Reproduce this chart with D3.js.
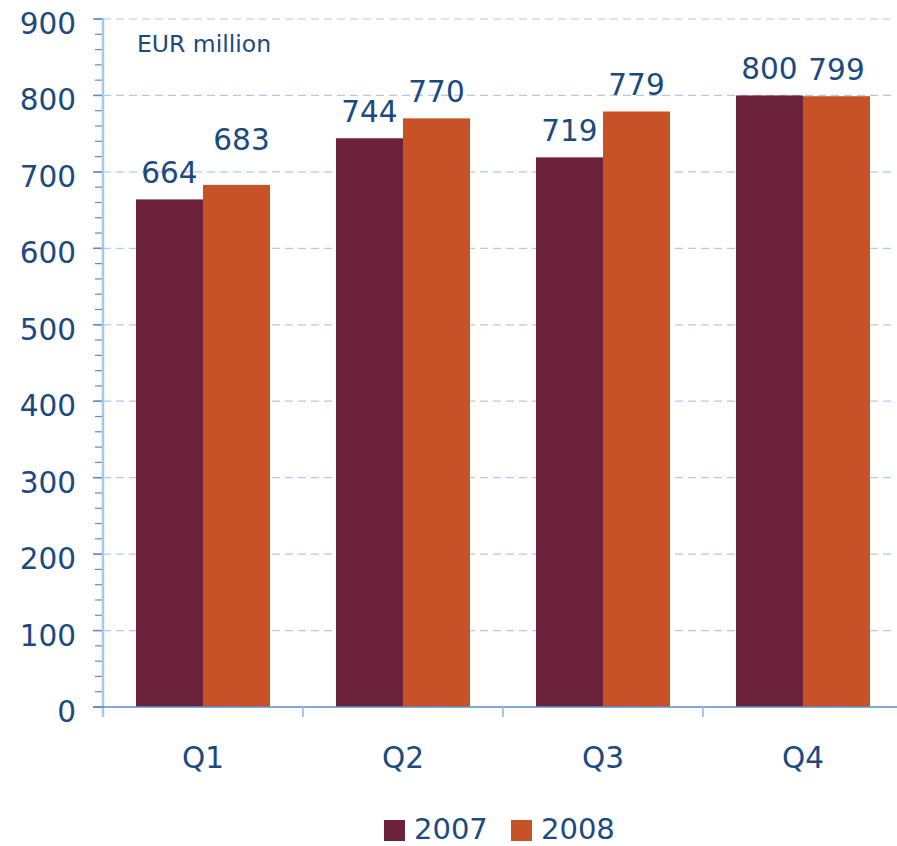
<!DOCTYPE html>
<html>
<head>
<meta charset="utf-8">
<script src="https://cdn.jsdelivr.net/npm/d3@7"></script>
<style>
  html, body { margin: 0; padding: 0; background: #fff; }
  svg text { font-family: "DejaVu Sans", Verdana, sans-serif; fill: #1b4a80; }
</style>
</head>
<body>
<svg id="chart" width="897" height="846"></svg>
<script>
// Quarterly figures, EUR million
const quarters = ["Q1", "Q2", "Q3", "Q4"];
const years = ["2007", "2008"];
const values2007 = [664, 744, 719, 800];
const values2008 = [683, 770, 779, 799];
const yTicks = [0, 100, 200, 300, 400, 500, 600, 700, 800, 900];
const unitLabel = "EUR million";

const colors = { "2007": "#6c223a", "2008": "#c75228" };
const seriesValues = { "2007": values2007, "2008": values2008 };

const svg = d3.select("#chart");

const y = d3.scaleLinear().domain([0, 900]).range([707, 19]);
const x = d3.scaleBand().domain(quarters).range([103, 903]).paddingInner(0).paddingOuter(0);
const xs = d3.scaleBand().domain(years).range([0, x.bandwidth()]).paddingInner(0).paddingOuter(0.4925);

// dashed gridlines
svg.append("g").selectAll("line")
  .data(yTicks.filter(t => t > 0))
  .join("line")
  .attr("x1", 103).attr("x2", 895)
  .attr("y1", d => y(d)).attr("y2", d => y(d))
  .attr("stroke", "#b0cbe6").attr("stroke-width", 1.2)
  .attr("stroke-dasharray", "8,5");

// bars
const rows = quarters.flatMap((q, i) => years.map(yr => ({ q, yr, v: seriesValues[yr][i] })));
svg.append("g").selectAll("rect")
  .data(rows)
  .join("rect")
  .attr("x", d => x(d.q) + xs(d.yr))
  .attr("width", xs.bandwidth())
  .attr("y", d => y(d.v))
  .attr("height", d => y(0) - y(d.v))
  .attr("fill", d => colors[d.yr]);

// value labels; the Q1 2008 label sits higher to clear its neighbour
const lift = d => (d.q === "Q1" && d.yr === "2008") ? 35 : 16;
const shift = d => (d.q === "Q1" && d.yr === "2008") ? 5 : 0;
svg.append("g").selectAll("text")
  .data(rows)
  .join("text")
  .attr("x", d => x(d.q) + xs(d.yr) + xs.bandwidth() / 2 + shift(d))
  .attr("y", d => y(d.v) - lift(d))
  .attr("text-anchor", "middle")
  .attr("font-size", 29.5)
  .text(d => d.v);

// y axis: minor ticks every 20, labelled ticks every 100
const yAxis = svg.append("g");
yAxis.selectAll("line.minor")
  .data(d3.range(0, 901, 20))
  .join("line")
  .attr("x1", 95).attr("x2", 103)
  .attr("y1", d => y(d)).attr("y2", d => y(d))
  .attr("stroke", "#5b8ec4").attr("stroke-width", 1.2);
yAxis.selectAll("line.major")
  .data(yTicks)
  .join("line")
  .attr("x1", 93).attr("x2", 103)
  .attr("y1", d => y(d)).attr("y2", d => y(d))
  .attr("stroke", "#5b8ec4").attr("stroke-width", 1.5);
yAxis.append("line")
  .attr("x1", 103).attr("x2", 103)
  .attr("y1", y(900)).attr("y2", 717)
  .attr("stroke", "#a6c7e6").attr("stroke-width", 2.5);
yAxis.selectAll("text")
  .data(yTicks)
  .join("text")
  .attr("x", 76)
  .attr("y", d => y(d) + 15)
  .attr("text-anchor", "end")
  .attr("font-size", 29.5)
  .text(d => d);

// x axis
const xAxis = svg.append("g");
xAxis.append("line")
  .attr("x1", 93).attr("x2", 897)
  .attr("y1", y(0)).attr("y2", y(0))
  .attr("stroke", "#5b8ec4").attr("stroke-width", 1.5);
xAxis.selectAll("line.cat")
  .data(quarters.slice(1))
  .join("line")
  .attr("x1", d => x(d)).attr("x2", d => x(d))
  .attr("y1", y(0)).attr("y2", y(0) + 10)
  .attr("stroke", "#a6c7e6").attr("stroke-width", 2);
xAxis.selectAll("text")
  .data(quarters)
  .join("text")
  .attr("x", d => x(d) + x.bandwidth() / 2)
  .attr("y", 768)
  .attr("text-anchor", "middle")
  .attr("font-size", 29.5)
  .text(d => d);

// unit label
svg.append("text")
  .attr("x", 137).attr("y", 52)
  .attr("font-size", 23.5)
  .text(unitLabel);

// legend
const legend = svg.append("g");
const legendX = [384, 511];
years.forEach((yr, i) => {
  legend.append("rect")
    .attr("x", legendX[i]).attr("y", 820)
    .attr("width", 21).attr("height", 21)
    .attr("fill", colors[yr]);
  legend.append("text")
    .attr("x", legendX[i] + 30).attr("y", 839)
    .attr("font-size", 29)
    .text(yr);
});
</script>
</body>
</html>
